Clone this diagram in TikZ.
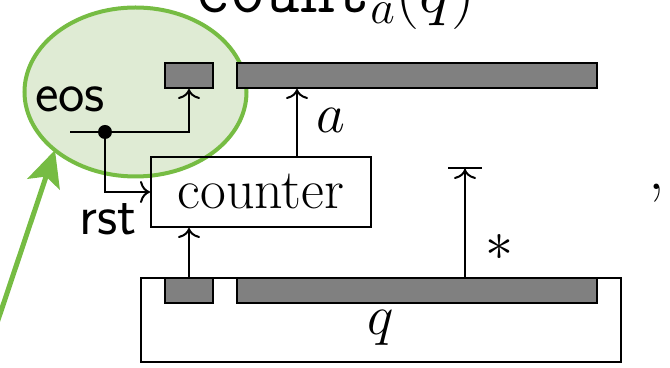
\RequirePackage{fix-cm}
\documentclass[tikz,border=0pt]{standalone}
\usetikzlibrary{arrows.meta,shapes.geometric}
\definecolor{ellline}{HTML}{76BC43}
\definecolor{ellfill}{HTML}{DFEBD4}
\definecolor{boxgray}{HTML}{808080}
\tikzset{
  graybox/.style={draw=black, fill=boxgray, line width=1pt, inner sep=0pt, minimum height=12.5pt},
  plainbox/.style={draw=black, line width=1pt, inner sep=0pt},
  lbl/.style={inner sep=0pt, font=\fontsize{28}{34}\selectfont},
  slbl/.style={inner sep=0pt, font=\fontsize{28}{34}\selectfont\sffamily},
  conn/.style={line width=1pt, -{To[length=5pt,width=11pt]}},
}
\begin{document}
\begin{tikzpicture}[x=0.5pt,y=-0.5pt]
\clip (0,0) rectangle (670,368);
% highlight ellipse
\node[ellipse, draw=ellline, fill=ellfill, line width=2pt, minimum width=111pt, minimum height=84.5pt, inner sep=0pt] (ell) at (135.5,92) {};
\coordinate (gs) at (-6,332);
\coordinate (gtip) at (55,150);
\draw[ellline, line width=2.5pt, -{Stealth[length=18pt,width=17pt,inset=4pt]}] (gs) -- (gtip);

% title
\node[anchor=base west, inner sep=0pt, font=\fontsize{34}{40}\selectfont] (title) at (195,13) {$\mathtt{count}_a(q)$};

% top gray boxes
\node[graybox, minimum width=24pt] (sb) at (189,75.5) {};
\node[graybox, minimum width=180pt] (lb) at (417,75.5) {};

% bottom outer box and gray boxes
\node[plainbox, minimum width=240pt, minimum height=42pt] (ob) at (381,320) {};
\node[graybox, minimum width=24pt] (sbb) at (189,290.25) {};
\node[graybox, minimum width=180pt] (lbb) at (417,290.25) {};

% counter
\node[plainbox, minimum width=110pt, minimum height=35pt, font=\fontsize{28}{34}\selectfont] (counter) at (261,192) {counter};

% eos wiring
\node[slbl] (eos) at (70,99) {eos};
\coordinate (eosL) at (70,132);
\node[circle, fill=black, inner sep=0pt, minimum size=7pt] (dot) at (105,132) {};
\draw[conn] (eosL) -| (sb.south);
\draw[conn] (dot.center) |- (counter.west);
\node[slbl] (rst) at (108,219) {rst};

% a arrow
\coordinate (ax) at (297,0);
\draw[conn] (counter.north -| ax) -- (lb.south -| ax);
\node[lbl] (alab) at (331,120) {$a$};

% input to counter
\draw[conn] (sbb.north) -- (counter.south -| sbb.north);

% star arrow with bar
\coordinate (tx) at (465,0);
\coordinate (ttop) at (465,167);
\draw[line width=1pt, -{To[length=5pt,width=11pt,sep=0pt]Bar[width=17pt,line width=1pt]}] (lbb.north -| tx) -- (ttop);
\node[lbl] (star) at (499,247) {$*$};

% q label
\node[lbl] (qlab) at (381,328) {$q$};

% comma
\node[anchor=base, inner sep=0pt, font=\fontsize{33}{40}\selectfont] (comma) at (657,190) {,};
\end{tikzpicture}
\end{document}
